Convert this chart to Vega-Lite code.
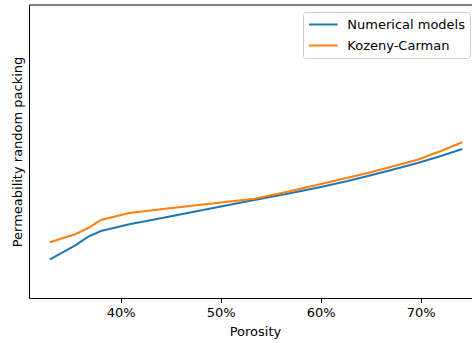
{
  "$schema": "https://vega.github.io/schema/vega-lite/v6.json",
  "autosize": {"type": "none"},
  "width": 443,
  "height": 293,
  "padding": {"left": 29, "top": 5, "right": 0, "bottom": 45},
  "background": "white",
  "config": {
    "view": {"stroke": null},
    "font": "DejaVu Sans",
    "axis": {"labelFont": "DejaVu Sans", "titleFont": "DejaVu Sans", "titleFontWeight": "normal", "domainColor": "black", "tickColor": "black", "labelColor": "black", "titleColor": "black", "grid": false}
  },
  "datasets": {
    "lines": [
      {"porosity": 32.93, "perm": 38.7, "model": "Numerical models"},
      {"porosity": 35.43, "perm": 52.3, "model": "Numerical models"},
      {"porosity": 36.77, "perm": 61.3, "model": "Numerical models"},
      {"porosity": 38.03, "perm": 67.0, "model": "Numerical models"},
      {"porosity": 40.87, "perm": 73.8, "model": "Numerical models"},
      {"porosity": 44.03, "perm": 79.8, "model": "Numerical models"},
      {"porosity": 46.7, "perm": 85.0, "model": "Numerical models"},
      {"porosity": 50.03, "perm": 91.4, "model": "Numerical models"},
      {"porosity": 53.37, "perm": 97.9, "model": "Numerical models"},
      {"porosity": 56.7, "perm": 104.2, "model": "Numerical models"},
      {"porosity": 60.03, "perm": 111.0, "model": "Numerical models"},
      {"porosity": 62.7, "perm": 117.0, "model": "Numerical models"},
      {"porosity": 65.03, "perm": 122.8, "model": "Numerical models"},
      {"porosity": 67.37, "perm": 128.8, "model": "Numerical models"},
      {"porosity": 69.7, "perm": 135.0, "model": "Numerical models"},
      {"porosity": 72.03, "perm": 142.0, "model": "Numerical models"},
      {"porosity": 74.17, "perm": 149.0, "model": "Numerical models"},
      {"porosity": 32.93, "perm": 55.7, "model": "Kozeny-Carman"},
      {"porosity": 35.43, "perm": 63.7, "model": "Kozeny-Carman"},
      {"porosity": 36.77, "perm": 70.0, "model": "Kozeny-Carman"},
      {"porosity": 38.03, "perm": 78.0, "model": "Kozeny-Carman"},
      {"porosity": 40.87, "perm": 85.0, "model": "Kozeny-Carman"},
      {"porosity": 44.03, "perm": 88.7, "model": "Kozeny-Carman"},
      {"porosity": 46.7, "perm": 91.8, "model": "Kozeny-Carman"},
      {"porosity": 50.03, "perm": 95.6, "model": "Kozeny-Carman"},
      {"porosity": 53.37, "perm": 99.3, "model": "Kozeny-Carman"},
      {"porosity": 56.7, "perm": 106.3, "model": "Kozeny-Carman"},
      {"porosity": 60.03, "perm": 114.0, "model": "Kozeny-Carman"},
      {"porosity": 62.7, "perm": 120.3, "model": "Kozeny-Carman"},
      {"porosity": 65.03, "perm": 125.7, "model": "Kozeny-Carman"},
      {"porosity": 67.37, "perm": 132.0, "model": "Kozeny-Carman"},
      {"porosity": 69.7, "perm": 138.3, "model": "Kozeny-Carman"},
      {"porosity": 72.03, "perm": 147.0, "model": "Kozeny-Carman"},
      {"porosity": 74.17, "perm": 155.7, "model": "Kozeny-Carman"}
    ],
    "frame": [{"perm": 293}]
  },
  "encoding": {
    "y": {
      "field": "perm", "type": "quantitative",
      "scale": {"domain": [0, 293], "nice": false, "zero": false},
      "axis": {
        "title": "Permeability random packing", "ticks": false, "labels": false,
        "titleFontSize": 13, "titleX": -12, "titleY": 146.5, "titleBaseline": "middle", "titleAlign": "center", "titleAngle": -90, "domainWidth": 1
      }
    }
  },
  "layer": [
    {
      "data": {"name": "frame"},
      "mark": {"type": "rule", "color": "black", "strokeWidth": 1},
      "encoding": {}
    },
    {
      "data": {"name": "lines"},
      "mark": {"type": "line", "strokeWidth": 2, "clip": true},
      "encoding": {
        "x": {
          "field": "porosity", "type": "quantitative",
          "scale": {"domain": [30.84, 75.14], "nice": false, "zero": false},
          "axis": {
            "title": "Porosity", "values": [40, 50, 60, 70], "labelExpr": "datum.value + '%'",
            "labelFontSize": 13, "titleFontSize": 13, "tickSize": 4.5, "labelPadding": 3.5,
            "titlePadding": 6, "titleX": 226, "domainWidth": 1, "tickWidth": 1
          }
        },
        "color": {
          "field": "model", "type": "nominal", "sort": ["Numerical models", "Kozeny-Carman"],
          "scale": {"domain": ["Numerical models", "Kozeny-Carman"], "range": ["#1f77b4", "#ff7f0e"]},
          "legend": {
            "title": null, "orient": "none", "legendX": 274, "legendY": 7,
            "symbolType": "M-2.2,0H2.2", "symbolSize": 169, "symbolStrokeWidth": 2, "symbolOffset": 7.8,
            "labelFontSize": 13, "labelFont": "DejaVu Sans", "labelColor": "black", "labelOffset": 16.5,
            "rowPadding": 6, "padding": 5, "strokeColor": "#cccccc", "cornerRadius": 3,
            "fillColor": "rgba(255,255,255,0.8)", "labelLimit": 300
          }
        }
      }
    }
  ]
}
